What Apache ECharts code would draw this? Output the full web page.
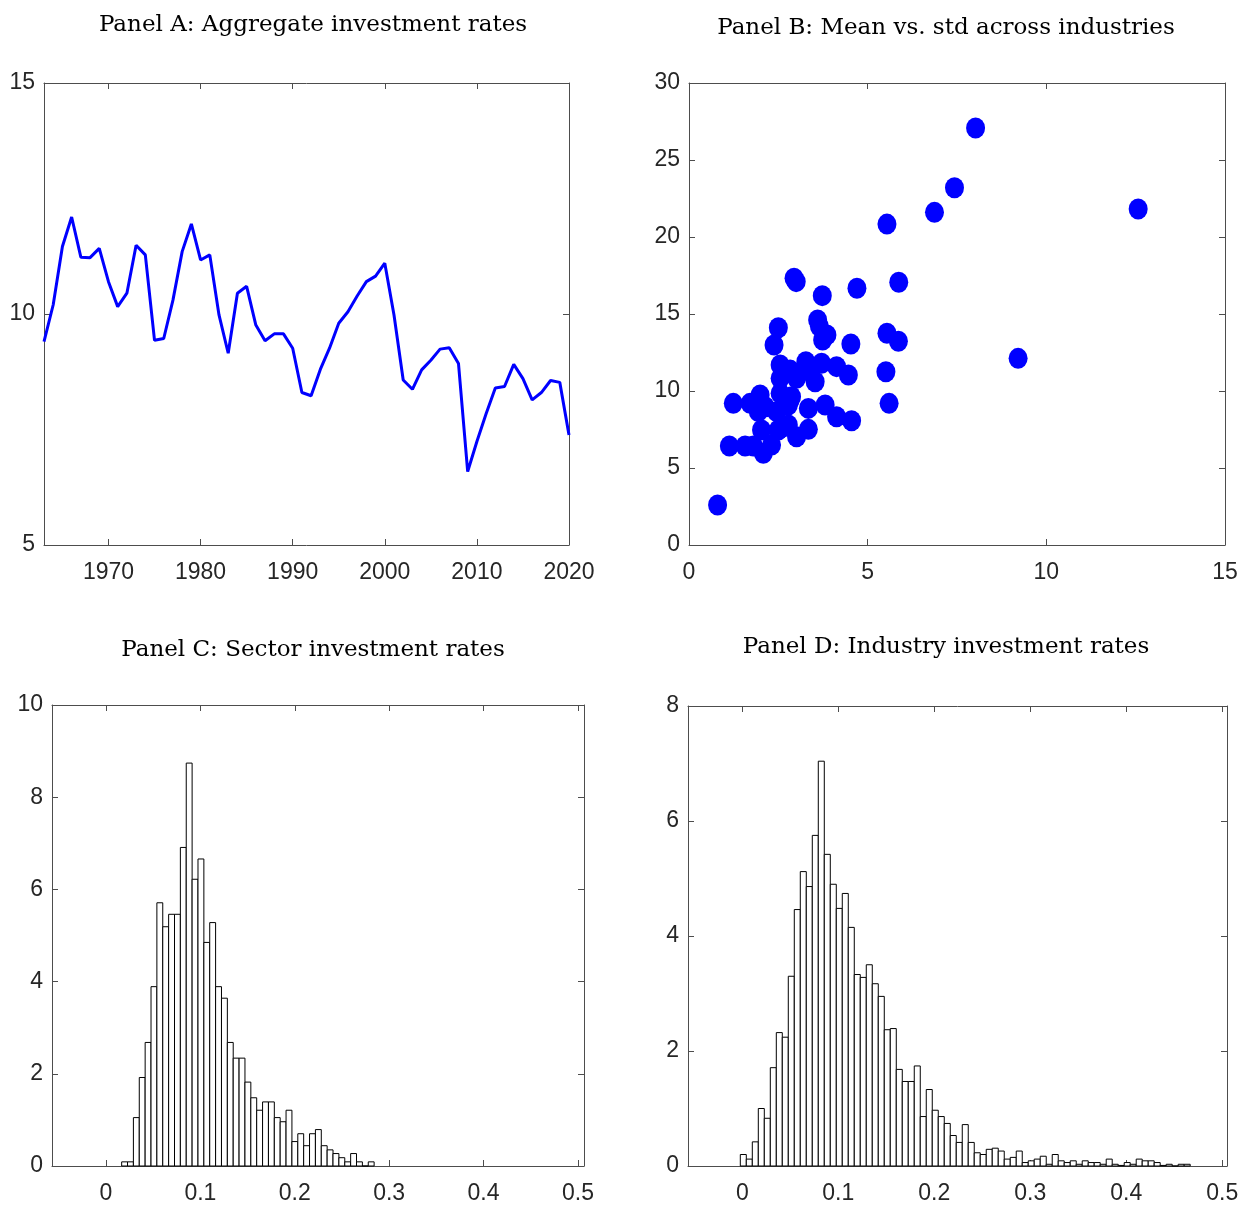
<!DOCTYPE html>
<html>
<head>
<meta charset="utf-8">
<script src="https://cdn.jsdelivr.net/npm/echarts@6/dist/echarts.min.js"></script>
<style>
html,body{margin:0;padding:0;background:#fff;}
#chart{width:1242px;height:1209px;}
</style>
</head>
<body>
<div id="chart"></div>
<script>
// ---------- Panel A: aggregate investment rates ----------
const years = [1963,1964,1965,1966,1967,1968,1969,1970,1971,1972,1973,1974,1975,1976,1977,1978,1979,1980,1981,1982,1983,1984,1985,1986,1987,1988,1989,1990,1991,1992,1993,1994,1995,1996,1997,1998,1999,2000,2001,2002,2003,2004,2005,2006,2007,2008,2009,2010,2011,2012,2013,2014,2015,2016,2017,2018,2019,2020];
const aggRate = [9.40,10.20,11.46,12.10,11.23,11.22,11.42,10.70,10.16,10.45,11.49,11.28,9.43,9.47,10.30,11.35,11.95,11.17,11.28,9.98,9.15,10.45,10.60,9.76,9.42,9.57,9.57,9.26,8.30,8.23,8.80,9.26,9.80,10.05,10.39,10.70,10.82,11.10,9.98,8.57,8.37,8.79,9.00,9.24,9.27,8.93,6.59,7.24,7.84,8.40,8.43,8.91,8.60,8.14,8.30,8.56,8.52,7.38];
const yearTicks = [1970,1980,1990,2000,2010,2020];

// ---------- Panel B: mean vs std across industries ----------
const indStd = [0.80,8.02,12.57,9.21,7.43,6.87,5.54,5.87,4.70,2.94,3.00,3.73,3.60,3.65,2.50,3.74,3.86,4.53,2.38,5.54,5.86,5.51,5.60,2.55,2.83,3.27,3.71,4.13,4.46,2.55,3.01,3.53,3.39,1.99,2.55,2.87,1.24,1.71,2.13,2.45,2.78,3.34,3.81,4.13,4.55,2.03,2.50,2.78,3.01,3.34,1.13,1.57,1.80,2.08,2.31,2.63,1.94,2.83];
const indMean = [2.60,27.08,21.82,12.12,23.20,21.60,20.84,17.06,16.67,17.32,17.10,16.19,14.61,14.20,14.11,13.31,13.64,13.05,12.99,13.75,13.23,11.25,9.20,11.69,11.36,11.90,11.80,11.58,11.04,10.82,10.82,10.60,11.25,9.74,9.85,9.63,9.20,9.20,8.98,8.66,9.09,8.87,9.09,8.33,8.07,7.47,7.47,7.79,7.03,7.51,6.43,6.43,6.43,5.95,6.49,7.68,8.66,9.40];

// ---------- Panel C: sector investment rates (histogram) ----------
const sectorBinStart = 0.0166;
const sectorBinWidth = 0.00622;
const sectorDensity = [0.09,0.09,1.05,1.92,2.68,3.89,5.71,5.19,5.46,5.46,6.91,8.74,6.22,6.66,4.85,5.28,3.89,3.64,2.68,2.34,2.34,1.82,1.48,1.21,1.39,1.39,1.05,0.96,1.21,0.53,0.70,0.44,0.70,0.79,0.44,0.35,0.27,0.18,0.09,0.27,0.09,0,0.09];

// ---------- Panel D: industry investment rates (histogram) ----------
const industryBinStart = -0.0021;
const industryBinWidth = 0.00625;
const industryDensity = [0.20,0.12,0.42,1.00,0.83,1.71,2.32,2.24,3.30,4.46,5.12,4.86,5.75,7.04,5.42,4.90,4.48,4.74,4.15,3.33,3.28,3.50,3.17,2.95,2.37,2.39,1.68,1.47,1.47,1.74,0.86,1.33,0.97,0.86,0.74,0.53,0.41,0.72,0.41,0.23,0.20,0.29,0.31,0.26,0.12,0.15,0.26,0.06,0.09,0.12,0.17,0.03,0.20,0.09,0.06,0.09,0.03,0.09,0.06,0.06,0.03,0.12,0.03,0.01,0.06,0.03,0.12,0.09,0.09,0.06,0.01,0.03,0,0.03,0.03];
const histTicks = [0,0.1,0.2,0.3,0.4,0.5];

const titles = ['Panel A: Aggregate investment rates','Panel B: Mean vs. std across industries','Panel C: Sector investment rates','Panel D: Industry investment rates'];

// ---------- helpers ----------
const AX = '#4d4d4d';
const LBL = '#262626';
const labelFont = {fontFamily:'Liberation Sans', fontSize:23, color:LBL};

function binsToRects(start, width, dens){
  return dens.map((h,i)=>[start + i*width, start + (i+1)*width, h]);
}

function xAxes(gi, min, max, opts){
  const base = {
    type:'value', gridIndex:gi, min:min, max:max, splitLine:{show:false},
    axisLine:{show:true, onZero:false, lineStyle:{color:AX, width:1}},
  };
  const bottom = Object.assign({}, base, {position:'bottom',
    axisTick:Object.assign({show:true, inside:true, length:6, lineStyle:{color:AX}}, opts.tick||{}),
    axisLabel:Object.assign({show:true, margin:16, showMinLabel:true, showMaxLabel:true,
      formatter:(v)=>String(v)}, labelFont, opts.label||{})
  });
  if (opts.interval!==undefined) bottom.interval = opts.interval;
  const top = Object.assign({}, base, {position:'top',
    axisTick:Object.assign({show:true, inside:true, length:6, lineStyle:{color:AX}}, opts.tick||{}),
    axisLabel:{show:false}
  });
  if (opts.interval!==undefined) top.interval = opts.interval;
  return [bottom, top];
}
function yAxes(gi, min, max, interval){
  const base = {
    type:'value', gridIndex:gi, min:min, max:max, interval:interval, splitLine:{show:false},
    axisLine:{show:true, onZero:false, lineStyle:{color:AX, width:1}},
    axisTick:{show:true, inside:true, length:6, lineStyle:{color:AX}}
  };
  return [
    Object.assign({}, base, {position:'left', axisLabel:Object.assign({show:true, margin:9, padding:[4,0,0,0]}, labelFont)}),
    Object.assign({}, base, {position:'right', axisLabel:{show:false}})
  ];
}

const grids = [
  {left:44, top:83, width:525, height:462},
  {left:689, top:83, width:536, height:462},
  {left:52, top:705, width:532, height:461},
  {left:688, top:706, width:539, height:460}
];

const xA = [].concat(
  xAxes(0, 1963, 2020, {tick:{customValues:yearTicks}, label:{customValues:yearTicks}}),
  xAxes(1, 0, 15, {interval:5}),
  xAxes(2, -0.0572, 0.5064, {tick:{customValues:histTicks}, label:{customValues:histTicks}}),
  xAxes(3, -0.0566, 0.505, {tick:{customValues:histTicks}, label:{customValues:histTicks}})
);
const yA = [].concat(
  yAxes(0, 5, 15, 5),
  yAxes(1, 0, 30, 5),
  yAxes(2, 0, 10, 2),
  yAxes(3, 0, 8, 2)
);

function histRender(params, api){
  const p0 = api.coord([api.value(0), api.value(2)]);
  const p1 = api.coord([api.value(1), 0]);
  return {type:'rect', shape:{x:p0[0], y:p0[1], width:p1[0]-p0[0], height:p1[1]-p0[1]},
    style:{fill:'#ffffff', stroke:'#000000', lineWidth:1}};
}

const titlePos = [[313,25],[946,28],[313,650],[946,647]];

const option = {
  backgroundColor:'#ffffff',
  animation:false,
  grid:grids,
  xAxis:xA,
  yAxis:yA,
  graphic: titles.map((t,i)=>({type:'text', x:titlePos[i][0], y:titlePos[i][1],
    style:{text:t, textAlign:'center', textVerticalAlign:'middle', fontFamily:'DejaVu Serif', fontSize:23, fill:'#000'}})),
  series:[
    {type:'line', xAxisIndex:0, yAxisIndex:0, data:years.map((y,i)=>[y, aggRate[i]]),
      showSymbol:false, symbol:'none', lineStyle:{color:'#0000ff', width:3}, itemStyle:{color:'#0000ff'}},
    {type:'scatter', xAxisIndex:2, yAxisIndex:2, data:indStd.map((s,i)=>[s, indMean[i]]),
      symbol:'circle', symbolSize:[19,21], itemStyle:{color:'#0000ff', opacity:1}},
    {type:'custom', xAxisIndex:4, yAxisIndex:4, data:binsToRects(sectorBinStart, sectorBinWidth, sectorDensity),
      encode:{x:[0,1], y:2}, renderItem:histRender},
    {type:'custom', xAxisIndex:6, yAxisIndex:6, data:binsToRects(industryBinStart, industryBinWidth, industryDensity),
      encode:{x:[0,1], y:2}, renderItem:histRender}
  ]
};

const chart = echarts.init(document.getElementById('chart'), null, {renderer:'canvas'});
chart.setOption(option);
</script>
</body>
</html>
